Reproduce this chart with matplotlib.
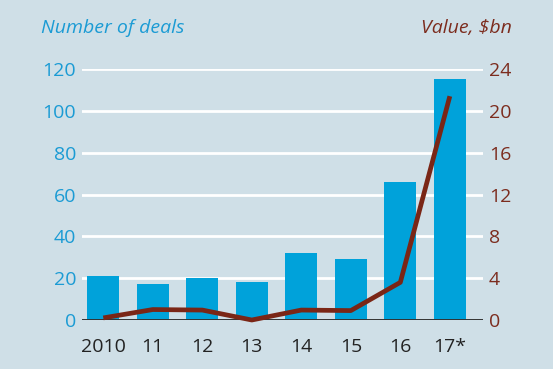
import matplotlib.pyplot as plt
import numpy as np

plt.rcParams['font.family'] = ['Open Sans', 'DejaVu Sans']

years = ['2010', '11', '12', '13', '14', '15', '16', '17*']
deals = [21, 17, 20, 18, 32, 29, 66, 115]
value_bn = [0.2, 1.0, 0.95, 0.0, 0.95, 0.9, 3.6, 21.4]
left_ticks = [0, 20, 40, 60, 80, 100, 120]
right_ticks = [0, 4, 8, 12, 16, 20, 24]

bg = '#cfdfe7'
blue = '#00a2da'
brown = '#7a2616'
blue_txt = '#1b9bd4'
brown_txt = '#7c2c1e'

fig = plt.figure(figsize=(5.53, 3.69), dpi=100, facecolor=bg)
ax = fig.add_axes([82 / 553, 49 / 369, 401 / 553, 251 / 369])
ax.set_facecolor(bg)
x = np.arange(len(years))

for t in left_ticks[1:]:
    ax.axhline(t, color='white', lw=2, zorder=0)
ax.bar(x, deals, width=0.64, color=blue, zorder=2)
ax.axhline(0, color='#333333', lw=1.4, zorder=3)
ax.set_xlim(-0.43, 7.67)
ax.set_ylim(0, 120)
ax.set_yticks(left_ticks)
ax.set_xticks(x)
ax.set_xticklabels(years)
ax.tick_params(axis='y', length=0, labelsize=14, labelcolor=blue_txt, pad=4.3)
ax.tick_params(axis='x', length=0, labelsize=14, labelcolor='#222222', pad=13)
for s in ax.spines.values():
    s.set_visible(False)

ax2 = ax.twinx()
ax2.plot(x, value_bn, color=brown, lw=3.4, zorder=5, clip_on=False,
         solid_capstyle='butt')
ax2.set_ylim(0, 24)
ax2.set_yticks(right_ticks)
ax2.tick_params(axis='y', length=0, labelsize=14, labelcolor=brown_txt, pad=4.3)
for s in ax2.spines.values():
    s.set_visible(False)

fig.text(41 / 553, 1 - 28 / 369, 'Number of deals', color=blue_txt,
         fontsize=14, style='italic', va='center', ha='left')
fig.text(512 / 553, 1 - 28 / 369, 'Value, $bn', color=brown_txt,
         fontsize=14, style='italic', va='center', ha='right')

fig.savefig('out.png', dpi=100, facecolor=bg)
